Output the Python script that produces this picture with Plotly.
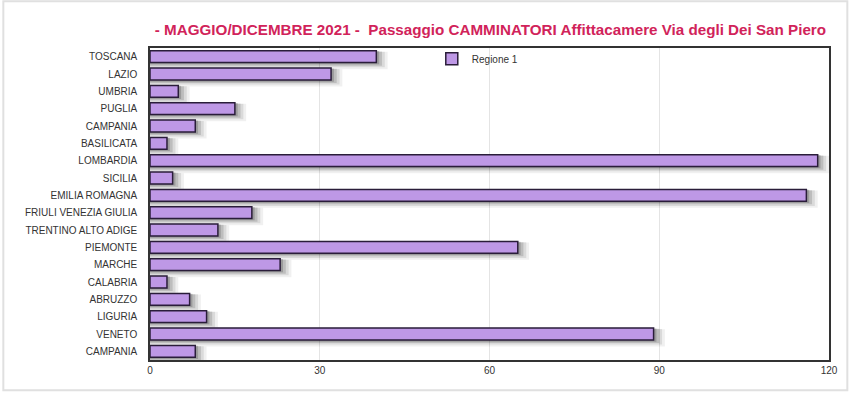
import plotly.graph_objects as go

regions = ["TOSCANA", "LAZIO", "UMBRIA", "PUGLIA", "CAMPANIA", "BASILICATA", "LOMBARDIA",
           "SICILIA", "EMILIA ROMAGNA", "FRIULI VENEZIA GIULIA", "TRENTINO ALTO ADIGE",
           "PIEMONTE", "MARCHE", "CALABRIA", "ABRUZZO", "LIGURIA", "VENETO", "CAMPANIA"]
values = [40, 32, 5, 15, 8, 3, 118, 4, 116, 18, 12, 65, 23, 3, 7, 10, 89, 8]
x_ticks = [0, 30, 60, 90, 120]
series_name = "Regione 1"
title = "- MAGGIO/DICEMBRE 2021 -  Passaggio CAMMINATORI Affittacamere Via degli Dei San Piero"

pos = list(range(len(regions)))

fig = go.Figure()
# soft shadow layers
for dx, op, w, off in [(2.0, 0.06, 1.0, -0.28), (1.5, 0.09, 0.9, -0.29), (1.0, 0.13, 0.82, -0.30), (0.5, 0.18, 0.76, -0.32)]:
    fig.add_trace(go.Bar(
        y=pos, x=[v + dx for v in values], orientation="h", width=w,
        offset=off, marker=dict(color=f"rgba(0,0,0,{op})", line=dict(width=0)),
        showlegend=False, hoverinfo="skip"))
fig.add_trace(go.Bar(
    y=pos, x=values, orientation="h", width=0.68, offset=-0.34, name=series_name,
    marker=dict(color="#BE98E6", line=dict(color="#2a1d3a", width=1.5))))

fig.update_layout(
    width=850, height=393,
    margin=dict(l=150, r=21, t=48, b=33),
    paper_bgcolor="white", plot_bgcolor="white",
    barmode="overlay",
    font=dict(family="Liberation Sans, Arial, sans-serif", color="#333333", size=11),
    title=dict(text=title, x=0.577, xanchor="center", y=0.925, yanchor="middle",
               font=dict(size=15.2, color="#D1235A", family="Liberation Sans, Arial, sans-serif", weight="bold")),
    legend=dict(x=0.415, y=1.012, xanchor="left", yanchor="top", bgcolor="rgba(0,0,0,0)",
                font=dict(size=10, color="#333333"), itemwidth=30),
    xaxis=dict(range=[0, 120], tickvals=x_ticks, showgrid=True, gridcolor="#e4e4e4",
               zeroline=False, showline=True, linecolor="#333333", linewidth=1.5, mirror=True,
               ticks="", tickfont=dict(size=10)),
    yaxis=dict(tickvals=pos, ticktext=regions, autorange=False, range=[len(regions) - 0.5, -0.5],
               showgrid=False, zeroline=False, showline=True, linecolor="#333333", linewidth=1.5,
               mirror=True, ticks="", ticklabelstandoff=9, tickfont=dict(size=10)),
    shapes=[dict(type="rect", xref="paper", yref="paper", x0=-0.216, x1=1.027, y0=-0.097, y1=1.150,
                 line=dict(color="#e0e0e0", width=2), fillcolor="rgba(0,0,0,0)", layer="below")],
)

fig.write_html("out.html", post_script="document.body.style.margin='0';",
               config={"displayModeBar": False})
